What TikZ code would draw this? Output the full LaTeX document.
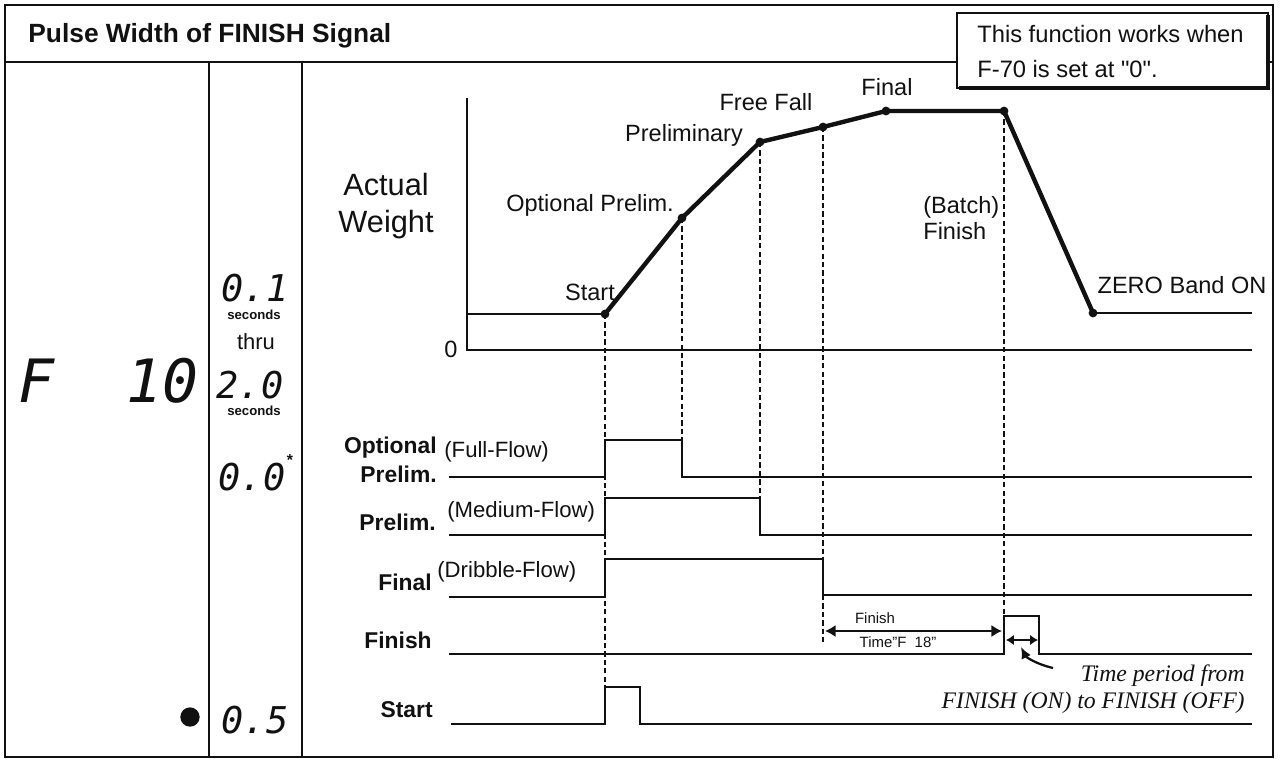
\documentclass[tikz,border=0pt]{standalone}
\usepackage{fontspec}
\setmainfont{Liberation Sans}
\newfontfamily\lcdfont{DejaVu Sans Mono}
\newfontfamily\notefont{Liberation Serif}
\usetikzlibrary{arrows.meta}
\definecolor{ink}{HTML}{111111}

\begin{document}
\begin{tikzpicture}[x=0.02cm,y=-0.02cm,
  every node/.style={inner sep=0pt,text=ink},
  signal/.style={ink,line width=1.1pt},
  guide/.style={ink,line width=1.1pt,dash pattern=on 3pt off 1.8pt},
  weight/.style={ink,line width=2.5pt,line join=round},
  lab/.style={font=\fontsize{13.4}{15}\selectfont},
  siglab/.style={font=\bfseries\fontsize{13}{15}\selectfont,anchor=east},
  flow/.style={font=\fontsize{12.6}{15}\selectfont,anchor=west},
  lcd/.style={font=\lcdfont\itshape\fontsize{#1}{#1}\selectfont},
  secs/.style={font=\bfseries\fontsize{7.5}{9}\selectfont},
  tip/.style={-{Latex[length=6.5pt,width=6pt]}}]
\useasboundingbox (0,0) rectangle (1280,758);
\draw[ink,line width=1.4pt] (5,5) rectangle (1273,757);
\draw[ink,line width=1.2pt] (5,62) -- (1273,62);
\draw[ink,line width=1.1pt] (209,62) -- (209,757) (302,62) -- (302,757);
\node[anchor=west,font=\bfseries\fontsize{15}{18}\selectfont] (title) at (28,36) {Pulse Width of FINISH Signal};

\draw[ink,fill=white,line width=1.1pt] (957,13) rectangle (1268,88);
\draw[ink,line width=2.4pt] (959,88) -- (1268,88) -- (1268,15);
\node[anchor=north west,align=left,font=\fontsize{13.5}{20}\selectfont] (note) at (977,25) {This function works when\\F-70 is set at \textquotedbl0\textquotedbl.};

% setting column
\node[lcd=34,anchor=west] (fno) at (18,381) {F\ \ 10};
\node[lcd=21] (vmin) at (255,288) {0.1};
\node[secs] (sec1) at (254,315) {seconds};
\node[font=\fontsize{12.5}{15}\selectfont] (thru) at (256,342) {thru};
\node[lcd=21] (vmax) at (250,385) {2.0};
\node[secs] (sec2) at (254,411) {seconds};
\node[lcd=21] (vdef) at (252,477) {0.0};
\node[font=\bfseries\fontsize{9}{11}\selectfont] (ast) at (290,460) {*};
\node[lcd=21] (vex) at (255,720) {0.5};
\node[circle,fill=ink,minimum size=11pt] (dot) at (190,717) {};

% weight curve
\coordinate (start) at (605,314);
\coordinate (optp) at (682,218);
\coordinate (prel) at (760,142);
\coordinate (ffall) at (823,127);
\coordinate (final) at (886,111);
\coordinate (fin) at (1004,111);
\coordinate (zero) at (1093,313);
\draw[ink,line width=1.1pt] (467,98) -- (467,350) -- (1252,350);
\node[lab] (zlab) at (451,349) {0};
\node[align=center,font=\fontsize{17.5}{21.5}\selectfont] (aw) at (386,206) {Actual\\Weight};
\draw[ink,line width=1.5pt] (467,314) -- (start);
\draw[weight] (start) -- (optp) -- (prel) -- (ffall) -- (final) -- (fin) -- (zero);
\draw[ink,line width=1.5pt] (zero) -- (1252,313);
\foreach \p in {start,optp,prel,ffall,final,fin,zero}
  \fill[ink] (\p) circle (2.5pt);
\node[lab] (lstart) at (590,292) {Start};
\node[lab] (lopt) at (590,205) {Optional Prelim.};
\node[lab] (lprel) at (684,135) {Preliminary};
\node[lab] (lff) at (766,102) {Free Fall};
\node[lab] (lfinal) at (887,87) {Final};
\node[lab,anchor=west,align=left] (lbatch) at (923,218) {(Batch)\\Finish};
\node[lab] (lzero) at (1182,285) {ZERO Band ON};

\draw[guide] (start) -- (605,687);
\draw[guide] (optp) -- (682,440);
\draw[guide] (prel) -- (760,498);
\draw[guide] (ffall) -- (823,559) (823,595) -- (823,642);
\draw[guide] (fin) -- (1004,616);

% output signals
\draw[signal] (449,477) -- (605,477) -- (605,440) -- (682,440) -- (682,477) -- (1252,477);
\draw[signal] (449,535) -- (605,535) -- (605,498) -- (760,498) -- (760,535) -- (1252,535);
\draw[signal] (449,597) -- (605,597) -- (605,559) -- (823,559) -- (823,595) -- (1252,595);
\draw[signal] (449,654) -- (1004,654) -- (1004,616) -- (1039,616) -- (1039,654) -- (1252,654);
\draw[signal] (451,724) -- (605,724) -- (605,687) -- (640,687) -- (640,724) -- (1252,724);
\node[siglab] (sopt) at (437,448) {Optional};
\node[siglab] (sopt2) at (437,474) {Prelim.};
\node[flow] (fopt) at (444,452) {(Full-Flow)};
\node[siglab] (sprel) at (436,522) {Prelim.};
\node[flow] (fprel) at (447,512) {(Medium-Flow)};
\node[siglab] (sfinal) at (432,582) {Final};
\node[flow] (ffinal) at (437,572) {(Dribble-Flow)};
\node[siglab] (sfin) at (432,640) {Finish};
\node[siglab] (sstart) at (433,710) {Start};

% finish timing
\coordinate (ftl) at (825,631);
\coordinate (ftr) at (1002,631);
\draw[ink,line width=1.2pt,{Latex[length=6pt,width=7pt]}-{Latex[length=6pt,width=7pt]}] (ftl) -- (ftr);
\node[font=\fontsize{8.5}{10}\selectfont] (ftime1) at (875,618) {Finish};
\node[font=\fontsize{8.5}{10}\selectfont] (ftime2) at (898,642) {Time"F\ \ 18"};
\coordinate (pwl) at (1006,640);
\coordinate (pwr) at (1038,640);
\draw[ink,line width=1.2pt,{Latex[length=4.5pt,width=6pt]}-{Latex[length=4.5pt,width=6pt]}] (pwl) -- (pwr);
\node[anchor=north east,align=right,font=\notefont\itshape\fontsize{13.5}{15.5}\selectfont] (tpnote) at (1245,664) {Time period from\\FINISH (ON) to FINISH (OFF)};
\coordinate (tptail) at (1053,668);
\coordinate (tphead) at (1021,647);
\draw[ink,line width=1.3pt,tip] (tptail) .. controls (1036,664) and (1026,657) .. (tphead);
\end{tikzpicture}
\end{document}
